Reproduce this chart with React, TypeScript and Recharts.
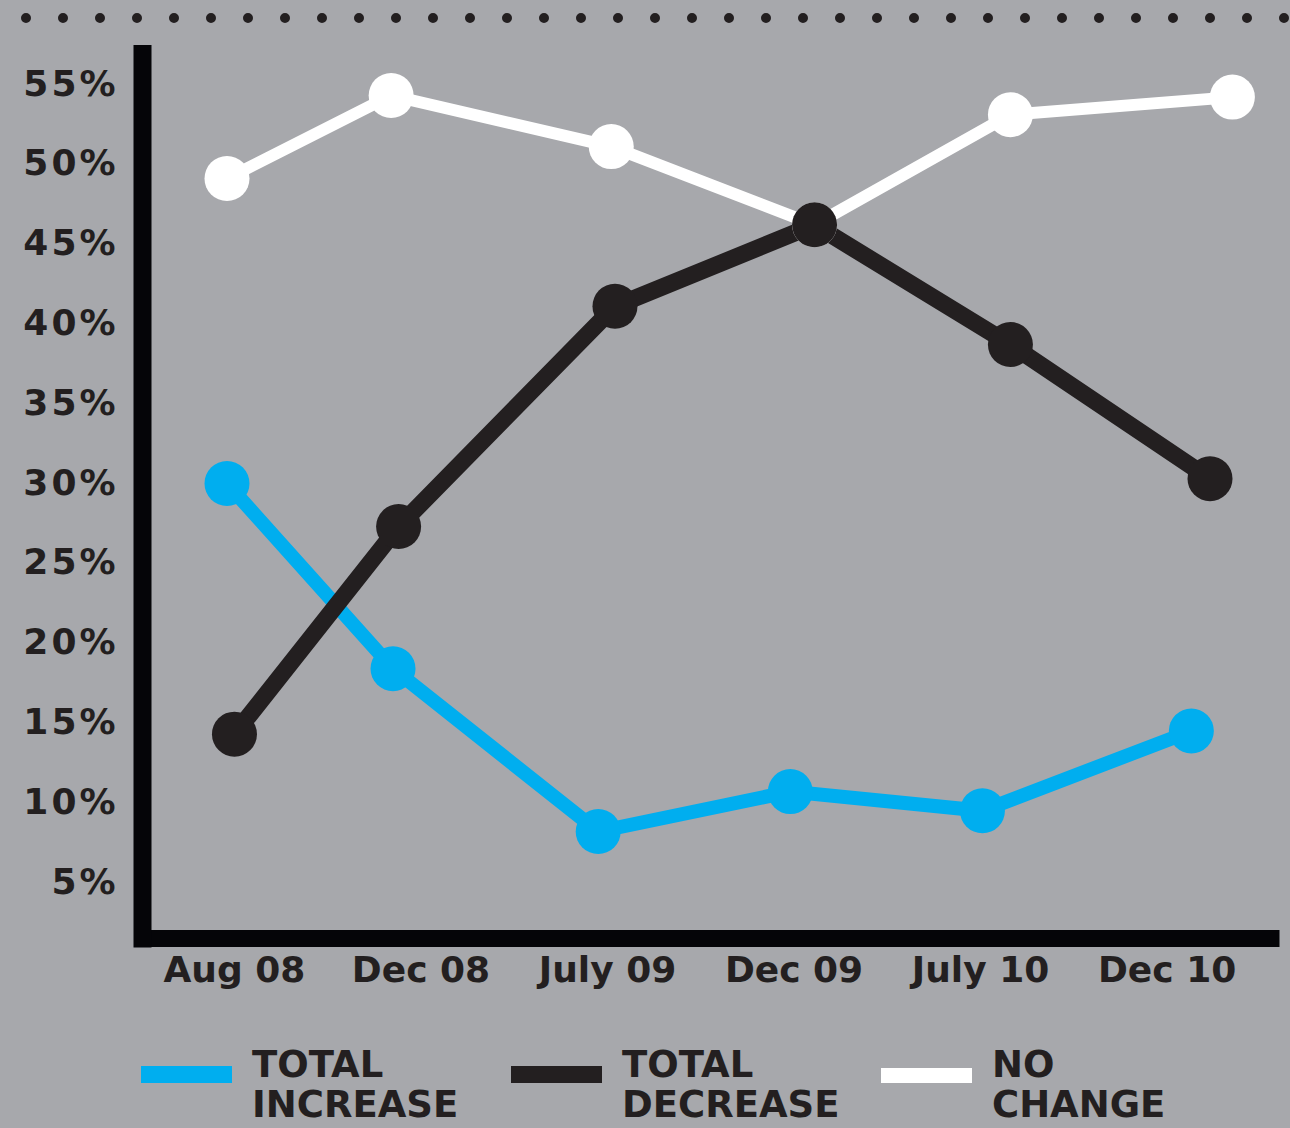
import { Legend, Line, LineChart, XAxis, YAxis } from "recharts";

const periods = ["Aug 08", "Dec 08", "July 09", "Dec 09", "July 10", "Dec 10"];

// share of respondents, in percent
const increase = [29.9, 18.3, 8.1, 10.6, 9.4, 14.4];
const decrease = [14.2, 27.2, 41.0, 46.1, 38.6, 30.2];
const noChange = [49.0, 54.2, 51.0, 46.1, 53.0, 54.1];

// where each point sits along the period axis (1 = one period step), as placed in the original
const increasePos = [-0.04, 0.85, 1.95, 2.98, 4.01, 5.13];
const decreasePos = [0.0, 0.88, 2.04, 3.11, 4.16, 5.23];
const noChangePos = [-0.04, 0.84, 2.02, 3.11, 4.16, 5.35];

const yTicks = [5, 10, 15, 20, 25, 30, 35, 40, 45, 50, 55];

const legendOrder = ["TOTAL INCREASE", "TOTAL DECREASE", "NO CHANGE"];

const BG = "#a7a8ac";
const INK = "#231f20";
const BLUE = "#00aeef";
const WHITE = "#ffffff";
const FONT = "'DejaVu Sans', Verdana, sans-serif";

const toRows = (pos: number[], vals: number[]) =>
  pos.map((x, i) => ({ x, value: vals[i], period: periods[i] }));

const increaseRows = toRows(increasePos, increase);
const decreaseRows = toRows(decreasePos, decrease);
const noChangeRows = toRows(noChangePos, noChange);

function LegendBlock({ payload }: any) {
  const items = [...(payload || [])].sort(
    (a: any, b: any) => legendOrder.indexOf(a.value) - legendOrder.indexOf(b.value)
  );
  return (
    <div style={{ display: "flex", paddingLeft: 141 }}>
      {items.map((it: any) => {
        const words = String(it.value).split(" ");
        return (
          <div key={it.value} style={{ display: "flex", width: 370 }}>
            <div
              style={{
                width: 91,
                height: it.color === WHITE ? 15 : 17,
                marginTop: it.color === WHITE ? 18 : 16,
                background: it.color,
                marginRight: 20,
              }}
            />
            <div
              style={{
                fontFamily: FONT,
                fontWeight: 700,
                fontSize: 37,
                color: INK,
              }}
            >
              {words.map((w, i) => (
                <div key={w} style={{ lineHeight: "30px", marginTop: i ? 10 : 0 }}>
                  {w}
                </div>
              ))}
            </div>
          </div>
        );
      })}
    </div>
  );
}

export default function App() {
  return (
    <div
      style={{
        position: "absolute",
        left: 0,
        top: 0,
        width: 1290,
        height: 1128,
        background: BG,
        overflow: "hidden",
      }}
    >
      <svg width={1290} height={40} style={{ position: "absolute", left: 0, top: 0 }}>
        <line
          x1={26}
          y1={18}
          x2={1300}
          y2={18}
          stroke={INK}
          strokeWidth={10}
          strokeLinecap="round"
          strokeDasharray="0 37"
        />
      </svg>
      <LineChart
        width={1290}
        height={1128}
        margin={{ top: 54, right: 19, bottom: 129.5, left: 0 }}
      >
        <XAxis
          type="number"
          dataKey="x"
          domain={[-0.493, 5.557]}
          ticks={periods.map((_, i) => i)}
          tickFormatter={(i: number) => periods[i]}
          interval={0}
          height={60}
          tickLine={false}
          tickSize={0}
          tickMargin={18}
          axisLine={{ stroke: "#050508", strokeWidth: 17, strokeLinecap: "square" }}
          tick={{ fill: INK, fontSize: 36, fontWeight: 700, fontFamily: FONT }}
        />
        <YAxis
          type="number"
          domain={[1.4, 56.8]}
          ticks={yTicks}
          interval={0}
          width={142.5}
          tickLine={false}
          tickSize={0}
          tickMargin={24}
          tickFormatter={(v: number) => `${v}%`}
          axisLine={{ stroke: "#050508", strokeWidth: 18, strokeLinecap: "square" }}
          tick={{ fill: INK, fontSize: 36, fontWeight: 700, fontFamily: FONT, letterSpacing: 3 }}
        />
        <Legend
          layout="horizontal"
          verticalAlign="middle"
          align="center"
          wrapperStyle={{ top: 1050, left: 0, width: 1290 }}
          content={<LegendBlock />}
        />
        <Line
          data={increaseRows}
          dataKey="value"
          name="TOTAL INCREASE"
          type="linear"
          stroke={BLUE}
          strokeWidth={14}
          dot={{ r: 22.5, fill: BLUE, strokeWidth: 0 }}
          activeDot={false}
          isAnimationActive={false}
        />
        <Line
          data={noChangeRows}
          dataKey="value"
          name="NO CHANGE"
          type="linear"
          stroke={WHITE}
          strokeWidth={12}
          dot={{ r: 22.5, fill: WHITE, strokeWidth: 0 }}
          activeDot={false}
          isAnimationActive={false}
        />
        <Line
          data={decreaseRows}
          dataKey="value"
          name="TOTAL DECREASE"
          type="linear"
          stroke={INK}
          strokeWidth={17}
          dot={{ r: 22.5, fill: INK, strokeWidth: 0 }}
          activeDot={false}
          isAnimationActive={false}
        />
      </LineChart>
    </div>
  );
}
